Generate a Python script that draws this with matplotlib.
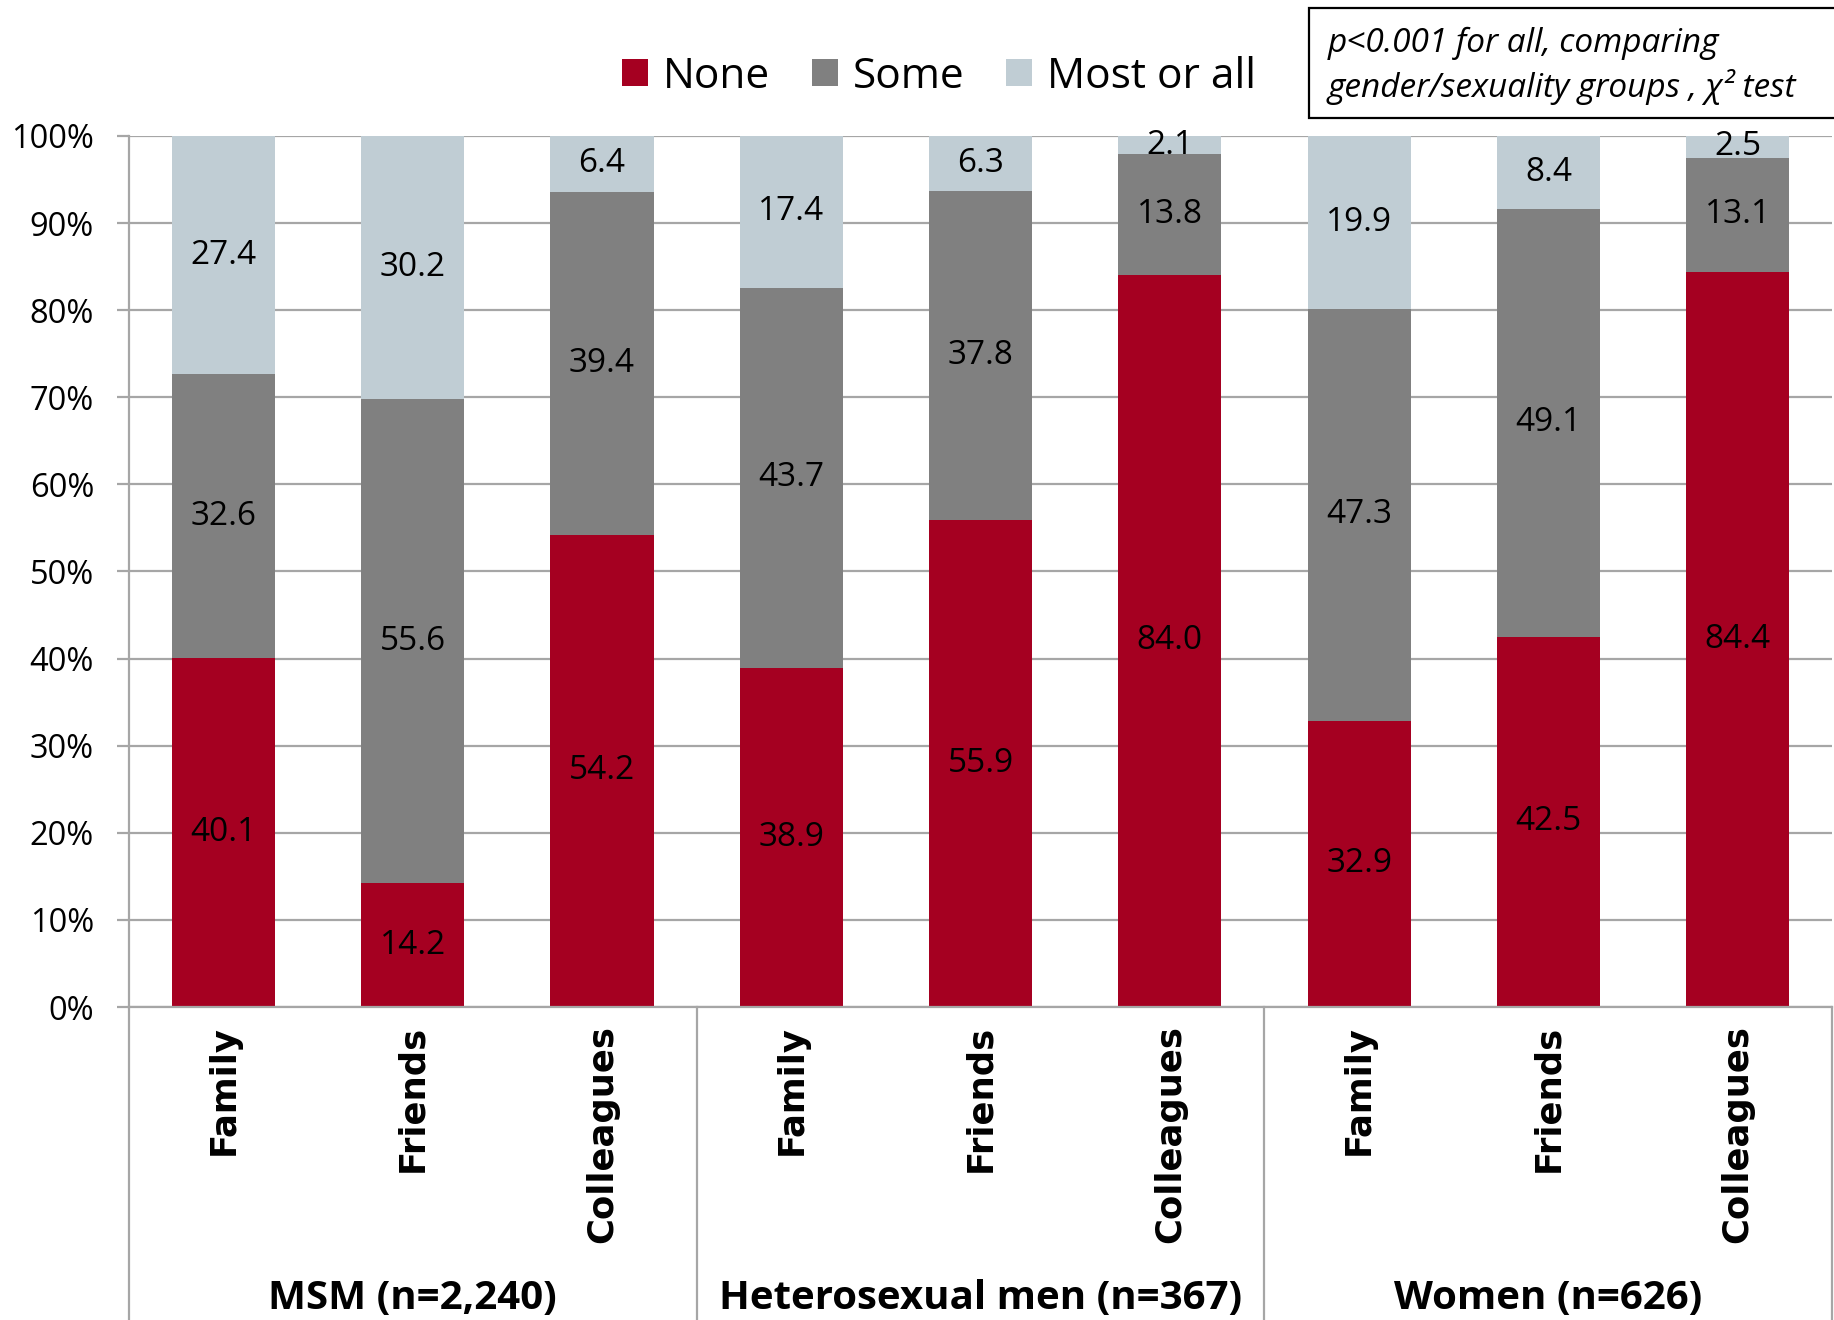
import matplotlib
matplotlib.use("Agg")
import matplotlib.pyplot as plt
from matplotlib.patches import Patch, Rectangle
from matplotlib.lines import Line2D
import numpy as np

# Data: percentage of each network to whom status was disclosed
groups = ["MSM (n=2,240)", "Heterosexual men (n=367)", "Women (n=626)"]
networks = ["Family", "Friends", "Colleagues"]
series_names = ["None", "Some", "Most or all"]
none_vals = [40.1, 14.2, 54.2, 38.9, 55.9, 84.0, 32.9, 42.5, 84.4]
some_vals = [32.6, 55.6, 39.4, 43.7, 37.8, 13.8, 47.3, 49.1, 13.1]
most_vals = [27.4, 30.2, 6.4, 17.4, 6.3, 2.1, 19.9, 8.4, 2.5]
y_ticks = [0, 10, 20, 30, 40, 50, 60, 70, 80, 90, 100]
note_lines = ["p<0.001 for all, comparing", "gender/sexuality groups , \u03c7\u00b2 test"]

colors = ["#A50021", "#808080", "#C0CDD4"]
grid_color = "#A6A6A6"
base_font = "Open Sans"

fig = plt.figure(figsize=(18.34, 13.2), dpi=100)
ax_left, ax_bottom, ax_w, ax_h = 0.0702, 0.2371, 0.9289, 0.6599
ax = fig.add_axes([ax_left, ax_bottom, ax_w, ax_h])

raw = np.array([none_vals, some_vals, most_vals])
# 100% stacked: each column is scaled to its own total
pct = raw / raw.sum(axis=0) * 100
x = np.arange(len(none_vals))
bar_w = 0.545

ax.set_axisbelow(True)
bottom = np.zeros(len(x))
for i, name in enumerate(series_names):
    ax.bar(x, pct[i], bar_w, bottom=bottom, color=colors[i],
           label=name, zorder=2)
    for xi, b, h, v in zip(x, bottom, pct[i], raw[i]):
        ax.text(xi, b + h / 2, f"{v:.1f}", ha="center", va="center",
                fontsize=24, family=base_font, color="black", zorder=3)
    bottom += pct[i]

ax.set_xlim(-0.5, len(x) - 0.5)
ax.set_ylim(0, 100)
ax.set_yticks(y_ticks)
ax.set_yticklabels([f"{t}%" for t in y_ticks], fontsize=23.5, family=base_font)
ax.yaxis.grid(True, color=grid_color, linewidth=1.6)
ax.tick_params(axis="y", length=9, width=1.6, color=grid_color, pad=16)

ax.set_xticks(x)
ax.set_xticklabels(networks * len(groups), rotation=90, fontsize=25.5,
                   fontweight="bold", family="DejaVu Sans", va="top", ha="center")
ax.tick_params(axis="x", length=0, pad=13)

for side in ["top", "right"]:
    ax.spines[side].set_visible(False)
for side in ["left", "bottom"]:
    ax.spines[side].set_color(grid_color)
    ax.spines[side].set_linewidth(1.6)

# group separators running from the axis down to the bottom edge
trans = ax.get_xaxis_transform()
depth = -ax_bottom / ax_h
for xs in [-0.5, 2.5, 5.5, 8.5]:
    ax.add_line(Line2D([xs, xs], [0, depth], transform=trans, color=grid_color,
                       linewidth=1.6, clip_on=False))

for gi, g in enumerate(groups):
    ax.text(gi * 3 + 1, -0.335, g, transform=trans, ha="center", va="center",
            fontsize=29, fontweight="bold", family=base_font)

handles = [Patch(facecolor=c, edgecolor="none") for c in colors]
fig.legend(handles, series_names, loc="center", bbox_to_anchor=(0.512, 0.942),
           ncol=3, frameon=False, prop={"family": base_font, "size": 30.5},
           handlelength=0.6, handleheight=0.6, handletextpad=0.35,
           columnspacing=1.0)

# note box in the upper right corner
fig.add_artist(Rectangle((1309 / 1834, 1 - 118 / 1320), 0.3, 110 / 1320,
                         transform=fig.transFigure, facecolor="white",
                         edgecolor="black", linewidth=1.6))
fig.text(1328 / 1834, 1 - 43 / 1320, note_lines[0], ha="left", va="center",
         fontsize=24, style="italic", family=base_font)
fig.text(1328 / 1834, 1 - 87 / 1320, note_lines[1], ha="left", va="center",
         fontsize=24, style="italic", family=base_font)

fig.savefig("out.png", dpi=100)
